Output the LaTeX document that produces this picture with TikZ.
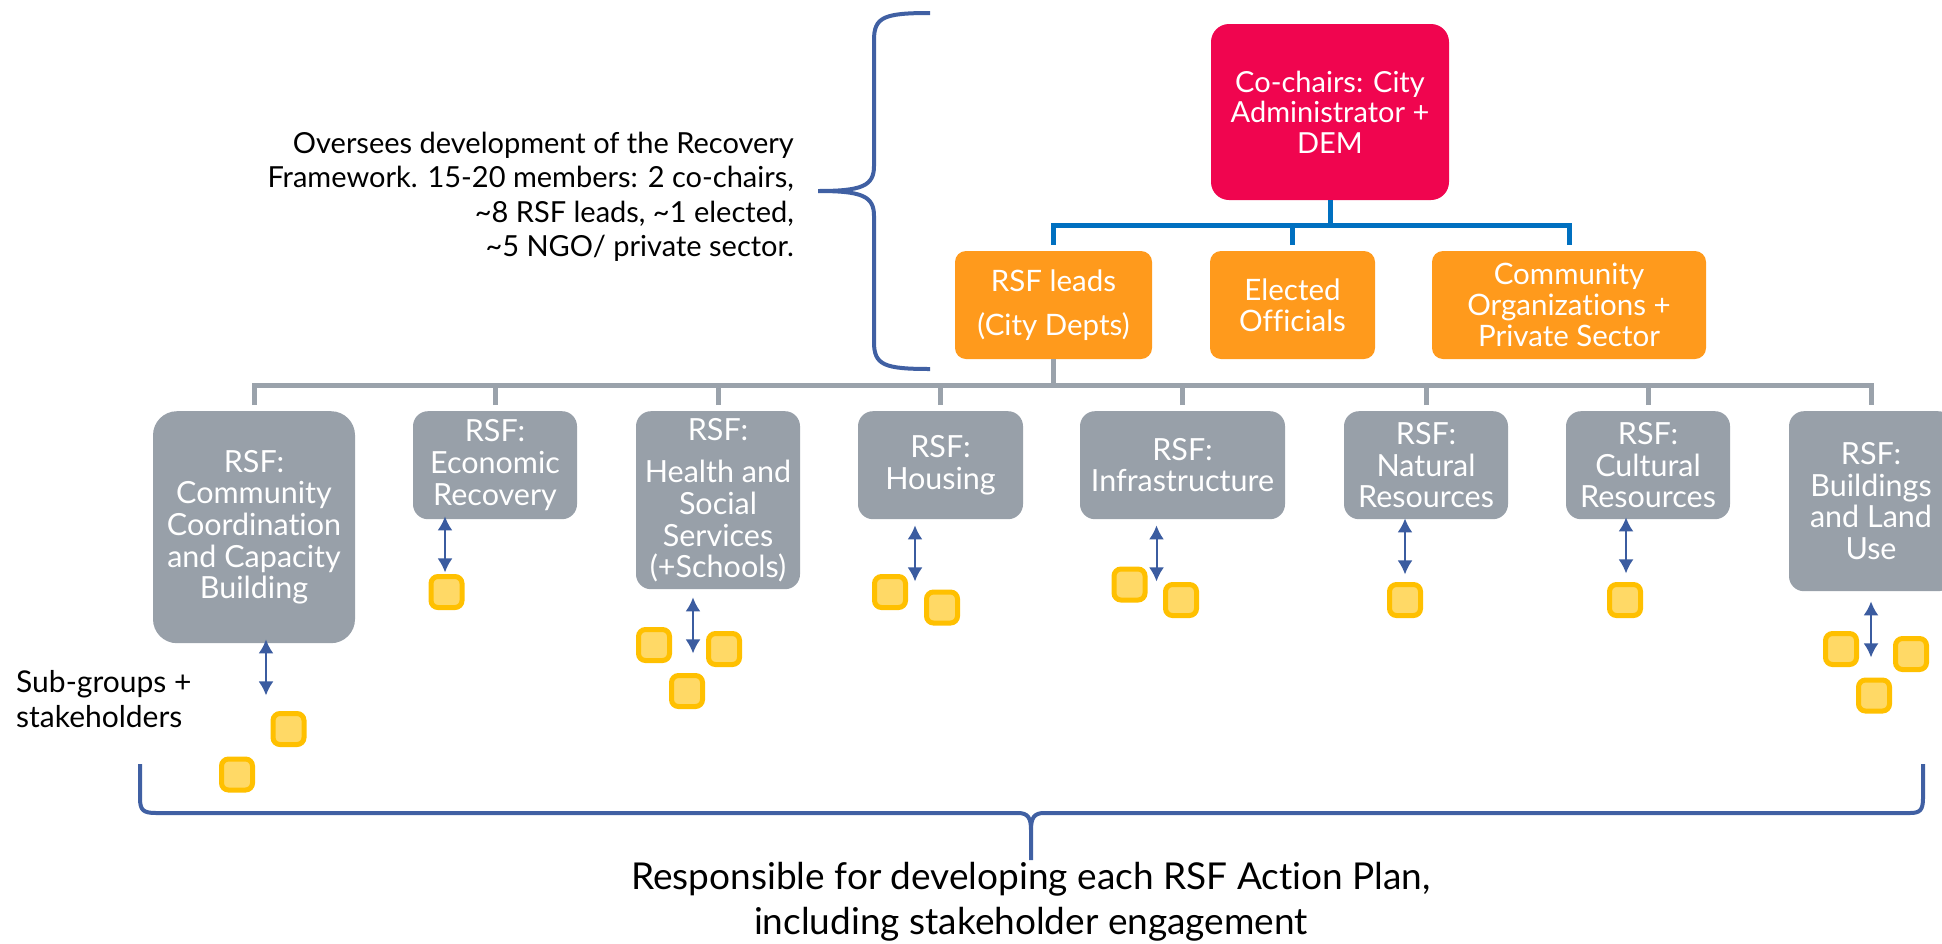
\documentclass[tikz,border=0pt]{standalone}
\usepackage{fontspec}
\setmainfont{Lato}[Ligatures=NoCommon]
\usetikzlibrary{arrows.meta}
\definecolor{chairpink}{HTML}{F0054F}
\definecolor{leadorange}{HTML}{FF9A1C}
\definecolor{rsfgray}{HTML}{98A0A9}
\definecolor{busblue}{HTML}{0070C0}
\definecolor{busgray}{HTML}{9AA2AB}
\definecolor{linkblue}{HTML}{3B5CA0}
\definecolor{braceblue}{HTML}{4060A3}
\definecolor{grpedge}{HTML}{FFC000}
\definecolor{grpfill}{HTML}{FFD966}

\begin{document}
\begin{tikzpicture}[x=1pt,y=-1pt,
  box/.style={text=white, align=center, inner sep=0pt},
  chair/.style={box, fill=chairpink, rounded corners=18pt, font=\fontsize{29}{30.5}\selectfont},
  lead/.style={box, fill=leadorange, minimum height=108pt, rounded corners=11pt, font=\fontsize{29.5}{31}\selectfont},
  rsf/.style={box, fill=rsfgray, anchor=north, rounded corners=15pt, font=\fontsize{30.5}{31.7}\selectfont},
  grp/.style={draw=grpedge, fill=grpfill, line width=5pt, minimum size=31pt, inner sep=0pt, rounded corners=7pt},
  topline/.style={draw=busblue, line width=5pt},
  midline/.style={draw=busgray, line width=5pt},
  link/.style={draw=linkblue, line width=2pt, {Latex[length=14pt,width=15pt]}-{Latex[length=14pt,width=15pt]}},
  brace/.style={draw=braceblue, line width=4pt}]
\useasboundingbox (0,0) rectangle (1942,943);

\node[chair, minimum width=238pt, minimum height=176pt] (chair) at (1330,112) {Co-chairs: City\\Administrator +\\DEM};
\node[lead, minimum width=197pt] (leads) at (1053.5,305) {RSF leads\\[13pt](City Depts)};
\node[lead, minimum width=165pt] (elected) at (1292.5,305) {Elected\\Officials};
\node[lead, minimum width=274pt] (orgs) at (1569,305) {Community\\Organizations +\\Private Sector};

\coordinate (hub) at (1330,225);
\draw[topline] (chair.south) -- (hub);
\draw[topline] ([yshift=6pt]leads.north) |- (hub) -| ([yshift=6pt]orgs.north);
\draw[topline] ([yshift=6pt]elected.north) -- (elected.north |- hub);

\node[rsf, minimum width=202pt, minimum height=232pt, rounded corners=24pt] (c1) at (254,411) {RSF:\\Community\\Coordination\\and Capacity\\Building};
\node[rsf, minimum width=164pt, minimum height=108pt] (c2) at (495,411) {RSF:\\Economic\\Recovery};
\node[rsf, minimum width=164pt, minimum height=178pt] (c3) at (718,411) {RSF:\\[11pt]Health and\\Social\\Services\\(+Schools)};
\node[rsf, minimum width=165pt, minimum height=108pt] (c4) at (940.5,411) {RSF:\\Housing};
\node[rsf, minimum width=205pt, minimum height=108pt] (c5) at (1182.5,411) {RSF:\\Infrastructure};
\node[rsf, minimum width=164pt, minimum height=108pt] (c6) at (1426,411) {RSF:\\Natural\\Resources};
\node[rsf, minimum width=164pt, minimum height=108pt] (c7) at (1648,411) {RSF:\\Cultural\\Resources};
\node[rsf, minimum width=164pt, minimum height=180pt] (c8) at (1871,411) {RSF:\\Buildings\\and Land\\Use};

\coordinate (split) at (1053.5,385);
\draw[midline] (leads.south) -- (split);
\draw[midline] ([yshift=6pt]c1.north) |- (split) -| ([yshift=6pt]c8.north);
\foreach \b in {c2,c3,c4,c5,c6,c7}
  \draw[midline] ([yshift=6pt]\b.north) -- (\b.north |- split);

\foreach \n/\x/\y in {g1a/288.5/729, g1b/237/774.5, g2/446.5/592, g3a/654/645, g3b/724/649, g3c/687/691,
    g4a/890/592, g4b/942/607.5, g5a/1129.5/584.5, g5b/1181/600, g6/1405/600, g7/1625/600,
    g8a/1841/649, g8b/1911/654, g8c/1874/695.5}
  \node[grp] (\n) at (\x,\y) {};

\foreach \b/\dx/\dy in {c1/12/-4, c2/-50/-3, c3/-25/8, c4/-25.5/6, c5/-26/6, c6/-21/-1, c7/-22/-2, c8/0/10}
  \draw[link] ([shift={(\dx,\dy)}]\b.south) -- ++(0,56);

\draw[brace] (930,13) .. controls (884,13) and (874,17) .. (874,40) -- (874,166)
  .. controls (874,186) and (862,191) .. (818,191) .. controls (862,191) and (874,196) .. (874,216)
  -- (874,342) .. controls (874,365) and (884,369) .. (930,369);
\draw[brace] (140,764) -- (140,798) .. controls (140,810) and (143,813) .. (156,813) -- (1018,813)
  .. controls (1028,813) and (1031,818) .. (1031,830) -- (1031,860) -- (1031,830)
  .. controls (1031,818) and (1034,813) .. (1044,813) -- (1910,813)
  .. controls (1920,813) and (1923,810) .. (1923,798) -- (1923,764);

\node[anchor=east, align=right, inner sep=0pt, font=\fontsize{29}{34.5}\selectfont] (remit) at (794,197)
  {Oversees development of the Recovery\\Framework. 15-20 members: 2 co-chairs,\\\textasciitilde8 RSF leads, \textasciitilde1 elected,\\\textasciitilde5 NGO/ private sector.};
\node[anchor=west, align=left, inner sep=0pt, font=\fontsize{30}{35}\selectfont] (subs) at (16,699) {Sub-groups +\\stakeholders};
\node[align=center, inner sep=0pt, font=\fontsize{37}{45}\selectfont] (task) at (1031,902)
  {Responsible for developing each RSF Action Plan,\\including stakeholder engagement};
\end{tikzpicture}
\end{document}
